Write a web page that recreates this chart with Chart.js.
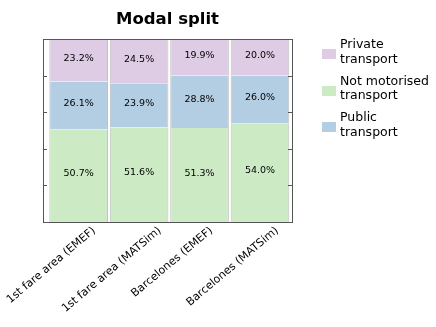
<!DOCTYPE html>
<html>
<head>
<meta charset="utf-8">
<script src="https://cdn.jsdelivr.net/npm/chart.js@4"></script>
<style>
  body { margin: 0; background: #fff; }
  #wrap { position: relative; width: 436px; height: 327px; }
  #legend { position: absolute; left: 322px; top: 37px; font-family: "DejaVu Sans"; font-size: 12.5px; color: #000; }
  .item { display: flex; align-items: center; height: 29px; margin-bottom: 7.5px; }
  .box { width: 14px; height: 10px; margin-right: 4px; margin-top: 5px; }
  .txt { line-height: 14.5px; }
</style>
</head>
<body>
<div id="wrap">
  <canvas id="modalChart" width="436" height="327"></canvas>
  <div id="legend"></div>
</div>
<script>
// datos del gráfico
const categories = ['1st fare area (EMEF)', '1st fare area (MATSim)', 'Barcelones (EMEF)', 'Barcelones (MATSim)'];
const notMotorised = [50.7, 51.6, 51.3, 54.0];
const publicTransport = [26.1, 23.9, 28.8, 26.0];
const privateTransport = [23.2, 24.5, 19.9, 20.0];
const legendOrder = [['Private', 'transport'], ['Not motorised', 'transport'], ['Public', 'transport']];

const colors = {
    priv: '#decbe4',
    notMot: '#ccebc5',
    pub: '#b3cde3'
};

const toPoints = arr => arr.map((v, i) => ({ x: i, y: v }));

// etiquetas de porcentaje en el centro de cada segmento
const segmentLabels = {
    id: 'segmentLabels',
    afterDatasetsDraw(chart) {
        const c = chart.ctx;
        c.save();
        c.font = '9.5px "DejaVu Sans"';
        c.fillStyle = '#000';
        c.textAlign = 'center';
        c.textBaseline = 'middle';
        chart.data.datasets.forEach((ds, di) => {
            chart.getDatasetMeta(di).data.forEach((bar, i) => {
                const y = (bar.y + bar.base) / 2 - 2;
                c.fillText(ds.data[i].y.toFixed(1) + '%', bar.x, y);
            });
        });
        c.restore();
    }
};

// etiquetas del eje x, centradas en el borde izquierdo de cada barra
const xLabels = {
    id: 'xLabels',
    afterDraw(chart) {
        const c = chart.ctx;
        const a = chart.chartArea;
        const ang = 40 * Math.PI / 180;
        const fs = 11;
        c.save();
        c.font = fs + 'px "DejaVu Sans"';
        c.fillStyle = '#000';
        c.textAlign = 'center';
        c.textBaseline = 'middle';
        chart.getDatasetMeta(0).data.forEach((bar, i) => {
            const w = c.measureText(categories[i]).width;
            const h = w * Math.sin(ang) + fs * Math.cos(ang);
            const cx = bar.x - bar.width / 2 + 2;
            const cy = a.bottom + 3 + h / 2;
            c.save();
            c.translate(cx, cy);
            c.rotate(-ang);
            c.fillText(categories[i], 0, 0);
            c.restore();
        });
        c.restore();
    }
};

// marco del área y marcas interiores
const frame = {
    id: 'frame',
    afterDraw(chart) {
        const a = chart.chartArea;
        const c = chart.ctx;
        const ys = chart.scales.y;
        c.save();
        c.strokeStyle = '#555';
        c.lineWidth = 1;
        c.strokeRect(Math.round(a.left) + 0.5, Math.round(a.top) + 0.5, Math.round(a.right - a.left), Math.round(a.bottom - a.top));
        [20, 40, 60, 80].forEach(v => {
            const y = Math.round(ys.getPixelForValue(v)) + 0.5;
            c.beginPath();
            c.moveTo(a.left, y); c.lineTo(a.left + 4, y);
            c.moveTo(a.right - 4, y); c.lineTo(a.right, y);
            c.stroke();
        });
        c.restore();
    }
};

const edge = { left: 1, right: 1, top: 0, bottom: 0 };

const ctx = document.getElementById('modalChart').getContext('2d');
const modalChart = new Chart(ctx, {
    type: 'bar',
    data: {
        datasets: [
            { label: 'Not motorised transport', data: toPoints(notMotorised), backgroundColor: colors.notMot, borderColor: '#bdbdbd', borderWidth: edge, borderSkipped: false },
            { label: 'Public transport', data: toPoints(publicTransport), backgroundColor: colors.pub, borderColor: '#bdbdbd', borderWidth: edge, borderSkipped: false },
            { label: 'Private transport', data: toPoints(privateTransport), backgroundColor: colors.priv, borderColor: '#bdbdbd', borderWidth: edge, borderSkipped: false }
        ]
    },
    options: {
        responsive: false,
        animation: false,
        categoryPercentage: 1,
        barPercentage: 0.97,
        layout: { padding: { left: 0, right: 144, top: 0, bottom: 0 } },
        plugins: {
            legend: { display: false },
            tooltip: { enabled: false },
            title: {
                display: true,
                text: 'Modal split',
                fullSize: false,
                color: '#000',
                font: { family: 'DejaVu Sans', size: 16.5, weight: 'bold' },
                padding: { top: 10, bottom: 9.2 }
            }
        },
        scales: {
            x: {
                type: 'linear',
                stacked: true,
                offset: false,
                min: -0.59,
                max: 3.53,
                grid: { display: false },
                border: { display: false },
                afterFit: axis => { axis.height = 105; },
                ticks: { display: false }
            },
            y: {
                stacked: true,
                min: 0,
                max: 100,
                grid: { display: false },
                border: { display: false },
                afterFit: axis => { axis.width = 43; },
                ticks: { display: false }
            }
        }
    },
    plugins: [segmentLabels, frame, xLabels]
});

// leyenda
const legendColors = [colors.priv, colors.notMot, colors.pub];
document.getElementById('legend').innerHTML = legendOrder.map((lines, i) =>
    `<div class="item"><div class="box" style="background:${legendColors[i]}"></div><div class="txt">${lines.join('<br>')}</div></div>`
).join('');
</script>
</body>
</html>
